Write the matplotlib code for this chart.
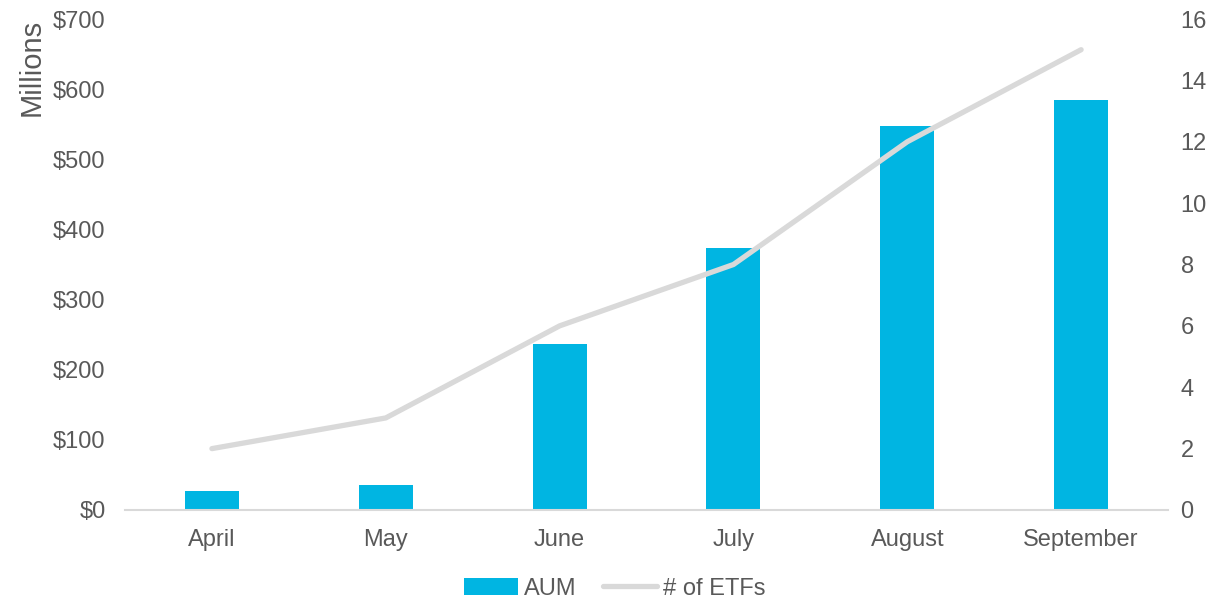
import matplotlib.pyplot as plt
import numpy as np

plt.rcParams['font.family'] = ['Liberation Sans', 'DejaVu Sans']

months = ['April', 'May', 'June', 'July', 'August', 'September']
aum = [27, 36, 237, 374, 547, 584]          # $ millions
num_etfs = [2, 3, 6, 8, 12, 15]

grey_txt = '#595959'
bar_col = '#00B5E2'
line_col = '#D9D9D9'

fig = plt.figure(figsize=(12.29, 6), dpi=100)
ax = fig.add_axes([0.1017, 0.15, 0.8487, 0.8183])
x = np.arange(len(months))
ax.bar(x, aum, width=0.31, color=bar_col, label='AUM', zorder=2)
ax.set_xlim(-0.5, 5.5)
ax.set_ylim(0, 700)
ax.set_yticks(range(0, 701, 100))
ax.set_yticklabels(['$' + str(v) for v in range(0, 701, 100)])
ax.set_xticks(x)
ax.set_xticklabels(months)

ax2 = ax.twinx()
ax2.plot(x, num_etfs, color=line_col, lw=3.8, solid_capstyle='round', label='# of ETFs', zorder=3)
ax2.set_ylim(0, 16)
ax2.set_yticks(range(0, 17, 2))

for a in (ax, ax2):
    for s in a.spines.values():
        s.set_visible(False)
    a.tick_params(length=0, colors=grey_txt, labelsize=17)
ax.spines['bottom'].set_visible(True)
ax.spines['bottom'].set_color(line_col)
ax.spines['bottom'].set_linewidth(1.5)
ax.tick_params(axis='y', pad=14)
ax.tick_params(axis='x', pad=14)
ax2.tick_params(axis='y', pad=9)

ax.set_ylabel('Millions', color=grey_txt, fontsize=21, loc='top', labelpad=5)

h1, l1 = ax.get_legend_handles_labels()
h2, l2 = ax2.get_legend_handles_labels()
fig.legend(h1 + h2, l1 + l2, loc='lower center', bbox_to_anchor=(0.5, -0.035), ncol=2,
           frameon=False, fontsize=17, labelcolor=grey_txt, handlelength=2.3,
           handletextpad=0.25, columnspacing=1.1)

fig.savefig('out.png', dpi=100)
